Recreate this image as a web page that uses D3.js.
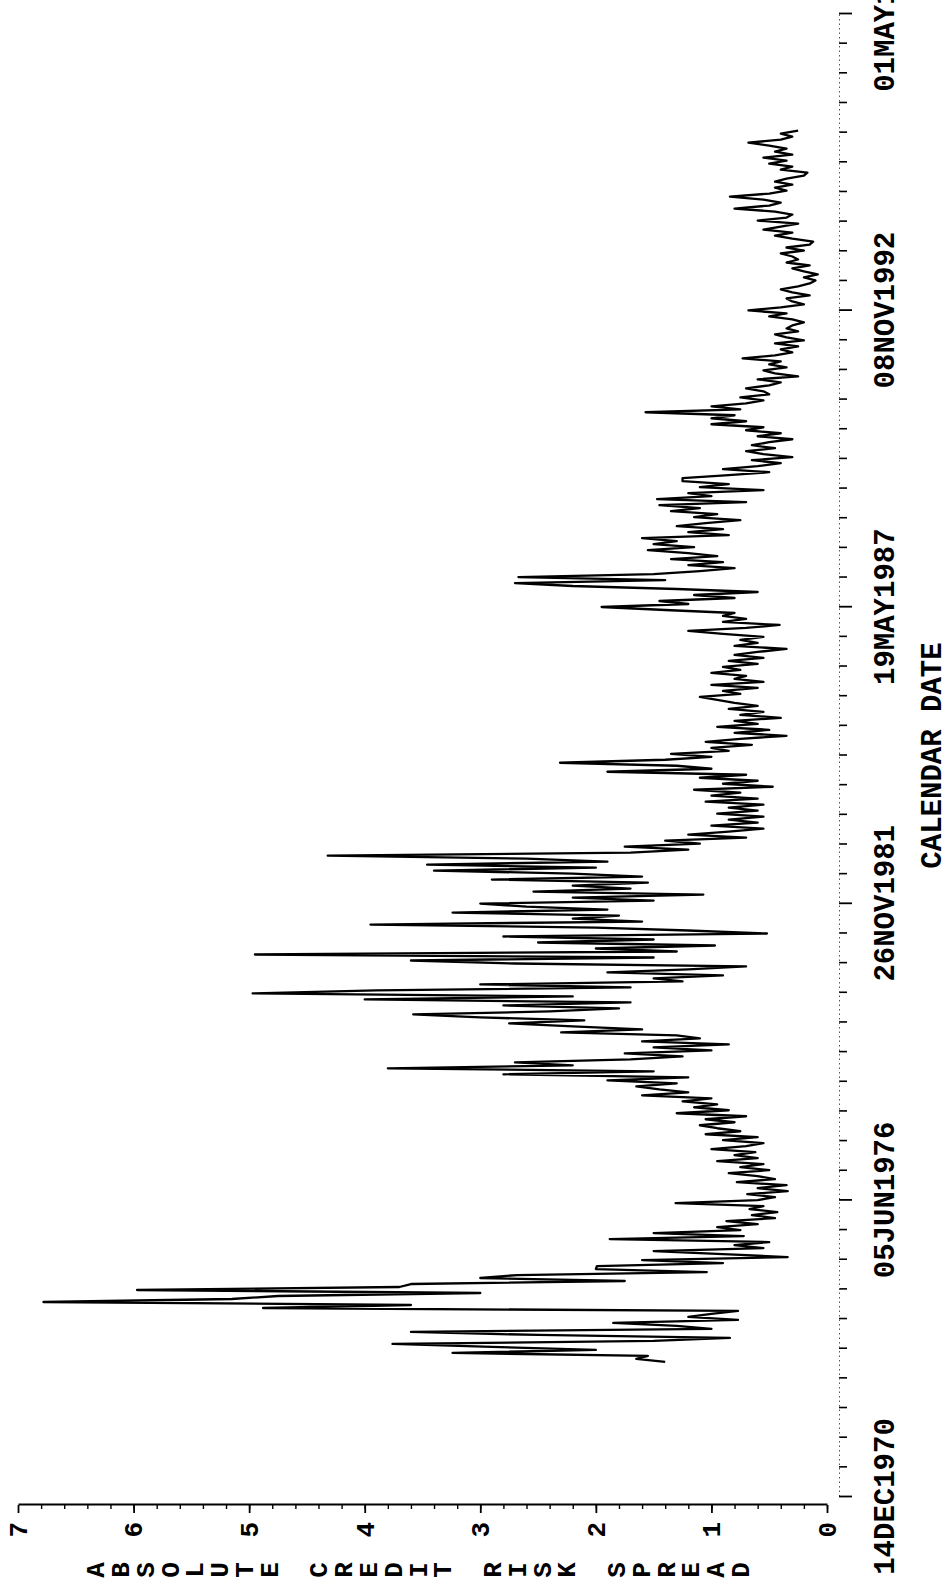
<!DOCTYPE html>
<html>
<head>
<meta charset="utf-8">
<script src="https://cdn.jsdelivr.net/npm/d3@7"></script>
<style>
  body { margin: 0; background: #fff; }
  text { font-family: "Liberation Mono", "DejaVu Sans Mono", monospace; font-weight: bold; fill: #000; }
</style>
</head>
<body>
<svg id="chart" width="949" height="1592"></svg>
<script>
// axis ranges / labels
const dateAxisStart = "1970-12-14";
const dateAxisEnd = "1998-05-01";
const dateTickLabels = ["14DEC1970", "05JUN1976", "26NOV1981", "19MAY1987", "08NOV1992", "01MAY1998"];
const valueTicks = [0, 1, 2, 3, 4, 5, 6, 7];
const valueTitle = "ABSOLUTE CREDIT RISK SPREAD";
const dateTitle = "CALENDAR DATE";

// series: one reading every 20.2 days from the first observation
const seriesStart = "1973-06-12";
const stepDays = 20.2;

const spread1973 = [
  1.40, 1.65, 1.55, 3.24, 2.00, 2.90, 3.76, 1.50, 0.84, 2.50,
  3.60, 1.00, 1.30, 1.85, 0.77, 1.20, 1.00, 0.77, 4.88, 3.60,
  6.78, 5.15, 4.75, 3.00, 5.97, 3.70, 3.60, 1.75, 3.00, 2.68,
  1.04, 2.00, 1.99, 0.90, 1.60, 0.34, 0.90, 1.50, 0.55, 0.80,
  0.50, 1.88, 0.72, 1.50, 0.75, 0.95, 0.60, 0.87, 0.45, 0.65,
  0.43, 0.67, 0.55, 1.31, 0.60, 0.45, 0.69, 0.34, 0.60, 0.35,
  0.78, 0.45
];
const spread1976 = [
  0.60, 0.85, 0.50, 0.75, 0.55, 0.95, 0.60, 0.80, 0.62, 1.00,
  0.70, 0.55, 0.90, 0.60, 1.05, 0.75, 0.95, 1.10, 0.80, 1.05,
  0.70, 1.30, 0.85, 1.15, 0.95, 1.25, 1.00, 1.60, 1.20, 1.45,
  1.65, 1.30, 1.90, 1.20, 2.80, 1.50, 3.80, 2.20, 2.70, 1.70,
  1.25, 1.75, 1.00, 1.50, 0.85, 1.60, 1.10, 1.30, 2.30, 1.60,
  2.20, 2.75, 2.10, 3.00, 3.58, 2.40, 1.80, 2.80, 1.70, 4.00,
  2.20, 4.97, 3.90, 1.70, 3.00, 1.25
];
const spread1980 = [
  1.50, 0.90, 1.90, 1.20, 0.70, 2.70, 3.60, 1.50, 4.95, 1.30,
  2.00, 0.97, 2.50, 1.50, 2.80, 0.52, 1.20, 2.00, 3.95, 1.60,
  2.20, 1.80, 3.24, 1.90, 2.60, 3.00, 1.50, 2.20, 1.07, 2.54,
  1.70, 2.20, 1.55, 2.90, 1.60, 2.20, 3.40, 2.00, 3.46, 1.90,
  2.60, 4.32, 1.70, 1.20, 1.75, 1.10, 1.40, 0.70, 1.20, 0.85,
  0.55, 1.00, 0.60, 0.85, 0.55, 0.95, 0.60, 0.85, 0.55, 1.05,
  0.60, 1.00, 0.75, 1.15, 0.47, 0.90, 0.60, 1.10, 0.70, 1.90,
  1.00, 1.30, 2.31, 1.40, 1.00, 1.35, 0.85, 1.00, 0.65, 1.05
];
const spread1985 = [
  0.75, 0.35, 0.80, 0.50, 0.95, 0.60, 0.80, 0.40, 0.75, 0.55,
  0.85, 0.60, 0.80, 0.95, 1.10, 0.75, 0.90, 0.60, 1.00, 0.55,
  0.80, 0.70, 1.00, 0.75, 0.90, 0.60, 0.85, 0.55, 0.80, 0.60,
  0.35, 0.80, 0.60, 0.75, 0.55, 0.90, 1.20, 0.70, 0.41, 0.90,
  0.70, 0.90, 0.80, 1.40, 1.95, 1.20, 1.45, 0.80, 1.15, 0.60,
  1.30, 2.20, 2.70, 1.40, 2.67, 1.50, 1.10, 0.80, 1.20, 0.90,
  1.35, 0.95, 1.20, 1.55, 1.15, 1.50, 1.30, 1.60, 0.85, 1.20,
  0.90, 1.30, 1.05, 0.75, 1.15, 0.95, 1.35, 1.10, 1.45, 0.70,
  1.47, 1.00, 1.20, 0.55, 1.10, 0.85, 1.25, 1.25, 0.85, 0.50,
  0.90, 0.60, 0.40, 0.65, 0.30, 0.55, 0.70, 0.45, 0.65, 0.50,
  0.30, 0.60, 0.40, 0.70, 0.55, 1.00, 0.70
];
const spread1991 = [
  1.00, 0.80, 1.57, 0.75, 1.00, 0.70, 0.55, 0.75, 0.50, 0.55,
  0.70, 0.50, 0.40, 0.60, 0.25, 0.45, 0.55, 0.35, 0.50, 0.40,
  0.73, 0.45, 0.30, 0.40, 0.25, 0.45, 0.20, 0.35, 0.45, 0.25,
  0.35, 0.30, 0.20, 0.30, 0.50, 0.35, 0.68, 0.40, 0.20, 0.30,
  0.35, 0.15, 0.30, 0.40, 0.25, 0.15, 0.10, 0.20, 0.08, 0.20,
  0.30, 0.15, 0.35, 0.25, 0.30, 0.40, 0.20, 0.35, 0.15, 0.12,
  0.30, 0.45, 0.30, 0.55, 0.40, 0.25, 0.60, 0.35, 0.30, 0.45,
  0.80, 0.50, 0.40, 0.55, 0.84, 0.50, 0.35, 0.45, 0.30, 0.45,
  0.35, 0.20, 0.17, 0.40, 0.30, 0.50, 0.35, 0.55, 0.30, 0.45,
  0.35, 0.50, 0.68, 0.40, 0.30, 0.40, 0.25
];

const DAY = 864e5;
const parse = d3.timeParse("%Y-%m-%d");
const t0 = parse(seriesStart);
const spread = [].concat(spread1973, spread1976, spread1980, spread1985, spread1991);
const data = spread.map((v, i) => ({ date: new Date(t0.getTime() + i * stepDays * DAY), value: v }));

const W = 949, H = 1592;
const svg = d3.select("#chart");

// the page is printed in landscape and turned a quarter turn:
// local x (dates) runs up the page, local y (values) runs across it
const g = svg.append("g").attr("transform", "translate(0," + H + ") rotate(-90)");

const axisDateY = 839;   // local y of the date axis
const axisValX = 87;     // local x of the value axis

const x = d3.scaleTime()
  .domain([parse(dateAxisStart), parse(dateAxisEnd)])
  .range([95, 1578]);
const y = d3.scaleLinear()
  .domain([0, 7])
  .range([827, 18]);

// date ticks: major every 2000 days, minor every 200
const d0 = parse(dateAxisStart).getTime();
const majorDates = dateTickLabels.map((s, i) => new Date(d0 + i * 2000 * DAY));
const minorDates = d3.range(0, 51).map(k => new Date(d0 + k * 200 * DAY)).filter((d, k) => k % 10 !== 0);

const dateMinor = g.append("g")
  .attr("transform", "translate(0," + axisDateY + ")")
  .call(d3.axisBottom(x).tickValues(minorDates).tickSize(8).tickSizeOuter(0).tickFormat(""));
dateMinor.select(".domain").remove();
dateMinor.selectAll("line").attr("stroke", "#000").attr("stroke-width", 1.6);

const dateMajor = g.append("g")
  .attr("transform", "translate(0," + axisDateY + ")")
  .call(d3.axisBottom(x).tickValues(majorDates).tickSize(13).tickSizeOuter(0).tickPadding(21)
    .tickFormat((d, i) => dateTickLabels[i]));
dateMajor.select(".domain")
  .attr("stroke", "#555")
  .attr("stroke-width", 1)
  .attr("stroke-dasharray", "1.5,3");
dateMajor.selectAll("line").attr("stroke", "#000").attr("stroke-width", 1.8);
dateMajor.selectAll("text").attr("font-size", 29).attr("fill", "#000");

// value axis
const valMinor = g.append("g")
  .attr("transform", "translate(" + axisValX + ",0)")
  .call(d3.axisLeft(y).tickValues(d3.range(0, 70, 2).map(v => v / 10)).tickSize(4).tickSizeOuter(0).tickFormat(""));
valMinor.select(".domain").remove();
valMinor.selectAll("line").attr("stroke", "#000").attr("stroke-width", 1.4);

const valMajor = g.append("g")
  .attr("transform", "translate(" + axisValX + ",0)")
  .call(d3.axisLeft(y).tickValues(valueTicks).tickSize(8).tickSizeOuter(0).tickPadding(9).tickFormat(d3.format("d")));
valMajor.select(".domain").attr("stroke", "#000").attr("stroke-width", 2.2);
valMajor.selectAll("line").attr("stroke", "#000").attr("stroke-width", 1.8);
valMajor.selectAll("text").attr("font-size", 26).attr("fill", "#000");

// titles
g.append("g")
  .selectAll("text")
  .data(valueTitle.split(""))
  .join("text")
  .attr("x", 22)
  .attr("y", (c, i) => 95 + i * 24.8)
  .attr("dy", "0.35em")
  .attr("text-anchor", "middle")
  .attr("font-size", 26)
  .text(c => c);

g.append("text")
  .attr("x", (x.range()[0] + x.range()[1]) / 2)
  .attr("y", 931)
  .attr("dy", "0.35em")
  .attr("text-anchor", "middle")
  .attr("font-size", 29)
  .text(dateTitle);

// series
const line = d3.line()
  .x(d => x(d.date))
  .y(d => y(d.value));

g.append("path")
  .datum(data)
  .attr("fill", "none")
  .attr("stroke", "#000")
  .attr("stroke-width", 2.3)
  .attr("stroke-linejoin", "round")
  .attr("d", line);
</script>
</body>
</html>
